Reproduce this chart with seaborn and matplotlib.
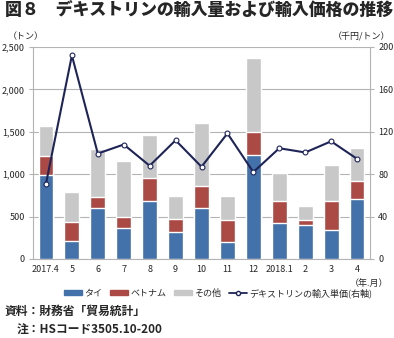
import numpy as np
import pandas as pd
import matplotlib
matplotlib.use("Agg")
import matplotlib.pyplot as plt
import seaborn as sns
from matplotlib.patches import Patch
from matplotlib.lines import Line2D

months = ["2017.4", "5", "6", "7", "8", "9", "10", "11", "12", "2018.1", "2", "3", "4"]
thai = [990, 210, 600, 360, 680, 315, 605, 205, 1225, 425, 400, 345, 705]
vietnam = [225, 230, 130, 135, 270, 155, 260, 250, 270, 260, 60, 335, 210]
other = [350, 345, 570, 660, 515, 275, 740, 285, 870, 330, 170, 425, 390]
price = [71, 192, 99.5, 108, 88, 112, 87, 118.5, 82, 104.5, 100.5, 111, 94.5]

sns.set_theme(style="white")
plt.rcParams['font.family'] = ['Noto Sans CJK JP', 'DejaVu Sans']

df = pd.DataFrame({"month": months, "thai": thai, "vietnam": vietnam, "other": other, "price": price})
df["tv"] = df["thai"] + df["vietnam"]
df["total"] = df["tv"] + df["other"]

c_thai = "#4371AA"
c_viet = "#AB4A45"
c_other = "#C8C8C8"
c_line = "#1E2458"
grid_c = "#B4B4B4"

fig = plt.figure(figsize=(3.94, 3.38), dpi=100)
ax = fig.add_axes([33/394, 1-259/338, (370-33)/394, (259-47)/338])

sns.barplot(data=df, x="month", y="total", color=c_other, width=0.57, ax=ax, saturation=1, zorder=2)
sns.barplot(data=df, x="month", y="tv", color=c_viet, width=0.57, ax=ax, saturation=1, zorder=3)
sns.barplot(data=df, x="month", y="thai", color=c_thai, width=0.57, ax=ax, saturation=1, zorder=4)

ax.set_xlim(-0.5, 12.5)
ax.set_ylim(0, 2500)
ax.set_yticks(np.arange(0, 2501, 500))
ax.set_yticklabels([f"{v:,}" for v in range(0, 2501, 500)], fontsize=6.5)
ax.set_xticks(range(len(months)))
ax.set_xticklabels(months, fontsize=6.5)
ax.set_xticks(np.arange(-0.5, 13, 1), minor=True)
ax.tick_params(axis="x", which="major", length=0, pad=4)
ax.tick_params(axis="x", which="minor", length=3, color=grid_c, width=0.8)
ax.tick_params(axis="y", length=3, color=grid_c, width=0.8, pad=3)
ax.set_xlabel("")
ax.set_ylabel("")
ax.yaxis.grid(True, color=grid_c, linewidth=0.8, zorder=0)
ax.set_axisbelow(True)
for s in ["left", "bottom"]:
    ax.spines[s].set_color(grid_c)
    ax.spines[s].set_linewidth(0.8)
ax.spines["top"].set_visible(False)
ax.spines["right"].set_visible(False)

ax2 = ax.twinx()
sns.lineplot(x=np.arange(len(months)), y=df["price"], ax=ax2, color=c_line, linewidth=1.5,
             marker="o", markersize=3.5, markerfacecolor="white", markeredgecolor=c_line,
             markeredgewidth=0.8, zorder=5)
ax2.set_ylim(0, 200)
ax2.set_yticks(np.arange(0, 201, 40))
ax2.set_yticklabels([str(v) for v in range(0, 201, 40)], fontsize=6.5)
ax2.tick_params(axis="y", length=3, color=grid_c, width=0.8, pad=3)
ax2.set_ylabel("")
ax2.grid(False)
ax2.spines["right"].set_color(grid_c)
ax2.spines["right"].set_linewidth(0.8)
for s in ["left", "top", "bottom"]:
    ax2.spines[s].set_visible(False)
ax2.set_xlim(-0.5, 12.5)

fig.text(5/394, 1-11/338, "図８　デキストリンの輸入量および輸入価格の推移", fontsize=12.2, fontweight="black",
         va="center", ha="left")
fig.text(8/394, 1-37/338, "（トン）", fontsize=6.5, va="center", ha="left")
fig.text(390/394, 1-37/338, "（千円/トン）", fontsize=6.5, va="center", ha="right")
fig.text(388/394, 1-283/338, "（年.月）", fontsize=6.5, va="center", ha="right")

handles = [Patch(color=c_thai, label="タイ"), Patch(color=c_viet, label="ベトナム"),
           Patch(color=c_other, label="その他"),
           Line2D([0], [0], color=c_line, lw=1.3, marker="o", markersize=3, markerfacecolor="white",
                  markeredgecolor=c_line, label="デキストリンの輸入単価(右軸)")]
fig.legend(handles=handles, loc="center", bbox_to_anchor=(218/394, 1-293/338), ncol=4, frameon=False,
           fontsize=6.5, handlelength=2.0, handleheight=0.5, handletextpad=0.3, columnspacing=0.8,
           borderaxespad=0)

fig.text(5/394, 1-311/338, "資料：財務省「貿易統計」", fontsize=8.5, fontweight="semibold", va="center", ha="left")
fig.text(17/394, 1-330/338, "注：HSコード3505.10-200", fontsize=8.5, fontweight="semibold", va="center", ha="left")

fig.savefig("out.png", dpi=100)
